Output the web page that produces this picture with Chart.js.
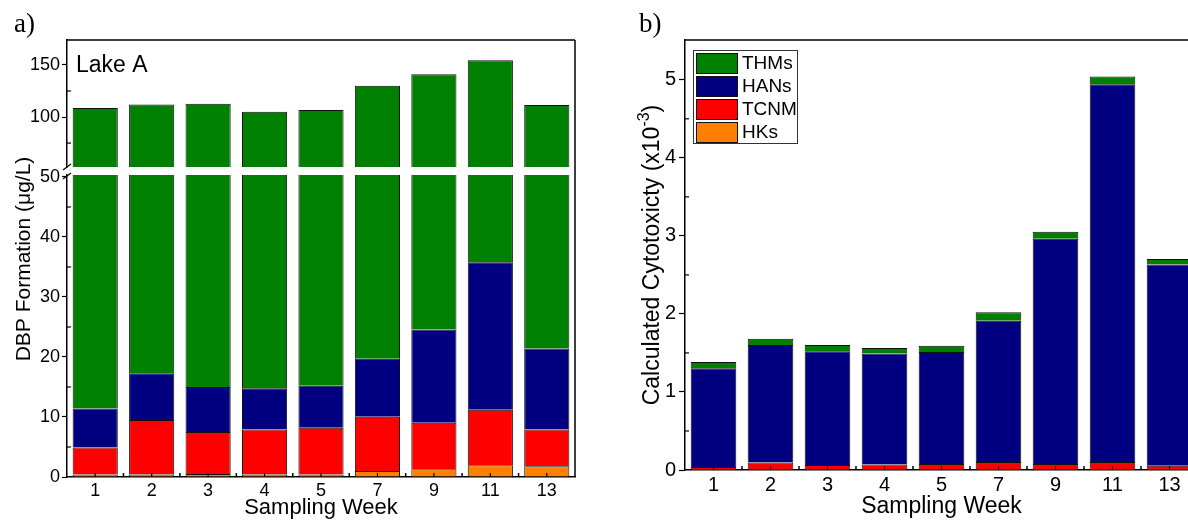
<!DOCTYPE html>
<html><head><meta charset="utf-8">
<script src="https://cdn.jsdelivr.net/npm/chart.js@4.4.1/dist/chart.umd.min.js"></script>
<style>
html,body{margin:0;padding:0;background:#fff;overflow:hidden;width:1188px;height:521px;}
#wrap{position:relative;width:1188px;height:521px;overflow:hidden;background:#fff;}
canvas{position:absolute;top:0;}
#cLow{left:0;}
#cHigh{left:0;pointer-events:none;}
#cRight{left:590px;}
</style></head><body>
<div id="wrap">
<canvas id="cLow" width="590" height="521"></canvas>
<canvas id="cHigh" width="590" height="521"></canvas>
<canvas id="cRight" width="620" height="521"></canvas>
</div>
<script>
// ---- data ----
const weeks = ['1','2','3','4','5','7','9','11','13'];
const legendNames = ['THMs','HANs','TCNM','HKs'];

// panel a) DBP formation (ug/L)
const dbpHKs  = [0.4, 0.4, 0.5, 0.4, 0.4, 1.0, 1.3, 1.95, 1.8];
const dbpTCNM = [4.5, 9.1, 7.0, 7.5, 7.8, 9.05, 7.75, 9.25, 6.1];
const dbpHANs = [6.5, 7.8, 7.5, 6.9, 7.0, 9.65, 15.55, 24.6, 13.5];
const dbpTHMs = [97.3, 94.7, 97.8, 90.2, 91.5, 110.3, 116.4, 118.7, 90.1];

// panel b) calculated cytotoxicity (x10^-3)
const cytoHKs  = [0.003, 0.003, 0.003, 0.003, 0.003, 0.003, 0.003, 0.003, 0.003];
const cytoTCNM = [0.035, 0.094, 0.06, 0.068, 0.073, 0.099, 0.073, 0.099, 0.051];
const cytoHANs = [1.265, 1.506, 1.46, 1.422, 1.437, 1.811, 2.887, 4.841, 2.579];
const cytoTHMs = [0.08, 0.08, 0.08, 0.07, 0.08, 0.11, 0.09, 0.10, 0.07];

// tick labels
const dbpLowTicks  = [0, 10, 20, 30, 40, 50];
const dbpLowMinor  = [5, 15, 25, 35, 45];
const dbpHighTicks = [100, 150];
const dbpHighMinor = [75, 125];
const cytoTicks    = [0, 1, 2, 3, 4, 5];
const cytoMinor    = [0.5, 1.5, 2.5, 3.5, 4.5];

// ---- styles ----
const FONT = "'Liberation Sans', Arial, sans-serif";
const SERIF = "'Liberation Serif', 'Times New Roman', serif";
const colors = {THMs:'#008000', HANs:'#000080', TCNM:'#ff0000', HKs:'#ff8000'};

function makeDatasets(hk, tc, han, thm){
  const src = {HKs:hk, TCNM:tc, HANs:han, THMs:thm};
  return ['HKs','TCNM','HANs','THMs'].map(n => ({
    label:n, data:src[n], backgroundColor:colors[n],
    borderColor:'#111', borderWidth:1, barPercentage:0.8, categoryPercentage:1.0
  }));
}
function yScale(min, max, ticks, width, fontSize, tickLen, pad){
  return {
    type:'linear', stacked:true, min:min, max:max, position:'left',
    afterBuildTicks: s => { s.ticks = ticks.map(v => ({value:v})); },
    afterFit: s => { s.width = width; },
    ticks:{font:{family:FONT, size:fontSize}, color:'#000', padding:pad, autoSkip:false},
    grid:{display:true, drawOnChartArea:false, drawTicks:true, tickLength:tickLen, tickColor:'#000', tickWidth:1.2},
    border:{display:true, color:'#000', width:1.5}
  };
}
function xScale(show, height, fontSize, pad){
  return {
    type:'category', stacked:true, offset:true, display:show,
    afterFit: s => { s.height = height; },
    grid:{display:false, drawTicks:false},
    border:{display:true, color:'#000', width:1.5},
    ticks:{font:{family:FONT, size:fontSize}, color:'#000', padding:pad, maxRotation:0, autoSkip:false}
  };
}
function line(ctx, x1, y1, x2, y2, w){
  ctx.beginPath(); ctx.lineWidth = w || 1.2; ctx.strokeStyle = '#000';
  ctx.moveTo(x1, y1); ctx.lineTo(x2, y2); ctx.stroke();
}
function minorY(ctx, chart, vals){
  const ys = chart.scales.y, a = chart.chartArea;
  vals.forEach(v => { const y = ys.getPixelForValue(v); line(ctx, a.left, y, a.left + 4, y, 1.2); });
}
function xTicks(ctx, chart){
  const xs = chart.scales.x, a = chart.chartArea;
  const px = weeks.map((w, i) => xs.getPixelForValue(i));
  px.forEach(x => line(ctx, x, a.bottom, x, a.bottom - 4, 1.2));
  for (let i = 0; i < px.length - 1; i++){
    const x = (px[i] + px[i+1]) / 2; line(ctx, x, a.bottom, x, a.bottom - 4, 1.5);
  }
}
function text(ctx, s, x, y, font, align, baseline){
  ctx.font = font; ctx.fillStyle = '#000';
  ctx.textAlign = align || 'left'; ctx.textBaseline = baseline || 'alphabetic';
  ctx.fillText(s, x, y);
}

const commonOpts = {
  responsive:false, animation:false, devicePixelRatio:1,
  plugins:{legend:{display:false}, tooltip:{enabled:false}}
};

// ---- panel a) lower section ----
new Chart(document.getElementById('cLow'), {
  type:'bar',
  data:{labels:weeks, datasets:makeDatasets(dbpHKs, dbpTCNM, dbpHANs, dbpTHMs)},
  options:Object.assign({}, commonOpts, {
    layout:{padding:{top:175, right:15, left:0, bottom:0}},
    scales:{ x:xScale(true, 44, 18, 3), y:yScale(0, 50.33, dbpLowTicks, 67, 18, 5, 2) }
  }),
  plugins:[{id:'decoLow', afterDraw(chart){
    const ctx = chart.ctx, a = chart.chartArea;
    minorY(ctx, chart, dbpLowMinor);
    xTicks(ctx, chart);
    // frame
    line(ctx, a.left, 40, a.right, 40, 1.5);
    line(ctx, a.right, 40, a.right, a.bottom, 1.5);
    // break marks
    line(ctx, 63, 170, 71, 164, 1.2);
    line(ctx, 63, 179, 71, 173, 1.2);
    // titles
    ctx.save(); ctx.translate(30, 259); ctx.rotate(-Math.PI/2);
    text(ctx, 'DBP Formation (\u03bcg/L)', 0, 0, '21px ' + FONT, 'center', 'alphabetic');
    ctx.restore();
    text(ctx, 'Sampling Week', (a.left + a.right)/2, 508, '22px ' + FONT, 'center', 'middle');
    text(ctx, 'a)', 14, 32, '27px ' + SERIF, 'left', 'alphabetic');
    text(ctx, 'Lake A', 76, 72, '23px ' + FONT, 'left', 'alphabetic');
  }}]
});

// ---- panel a) upper section ----
new Chart(document.getElementById('cHigh'), {
  type:'bar',
  data:{labels:weeks, datasets:makeDatasets(dbpHKs, dbpTCNM, dbpHANs, dbpTHMs)},
  options:Object.assign({}, commonOpts, {
    layout:{padding:{top:40, right:15, left:0, bottom:354}},
    scales:{ x:xScale(false, 0, 18, 0), y:yScale(52, 174, dbpHighTicks, 67, 18, 5, 2) }
  }),
  plugins:[{id:'decoHigh', afterDraw(chart){
    minorY(chart.ctx, chart, dbpHighMinor);
  }}]
});

// ---- panel b) ----
new Chart(document.getElementById('cRight'), {
  type:'bar',
  data:{labels:weeks, datasets:makeDatasets(cytoHKs, cytoTCNM, cytoHANs, cytoTHMs)},
  options:Object.assign({}, commonOpts, {
    layout:{padding:{top:40, right:12, left:0, bottom:0}},
    scales:{ x:xScale(true, 51, 20, 3), y:yScale(0, 5.51, cytoTicks, 95, 20, 6, 3) }
  }),
  plugins:[{id:'decoRight', afterDraw(chart){
    const ctx = chart.ctx, a = chart.chartArea;
    minorY(ctx, chart, cytoMinor);
    xTicks(ctx, chart);
    line(ctx, a.left, 40, chart.width, 40, 1.5);
    // y title with superscript
    ctx.save(); ctx.translate(61, 255); ctx.rotate(-Math.PI/2);
    const f1 = '23px ' + FONT, f2 = '16px ' + FONT;
    const s1 = 'Calculated Cytotoxicty (x10', s2 = '-3', s3 = ')';
    ctx.font = f1; const w1 = ctx.measureText(s1).width, w3 = ctx.measureText(s3).width;
    ctx.font = f2; const w2 = ctx.measureText(s2).width;
    let x0 = -(w1 + w2 + w3)/2;
    text(ctx, s1, x0, 8, f1); text(ctx, s2, x0 + w1, -2, f2); text(ctx, s3, x0 + w1 + w2, 8, f1);
    ctx.restore();
    text(ctx, 'Sampling Week', (a.left + a.right)/2, 507, '23px ' + FONT, 'center', 'middle');
    text(ctx, 'b)', 49, 32, '27px ' + SERIF, 'left', 'alphabetic');
    // legend
    ctx.fillStyle = '#fff'; ctx.fillRect(103, 50, 104, 93);
    ctx.lineWidth = 1; ctx.strokeStyle = '#333'; ctx.strokeRect(103.5, 50.5, 104, 93);
    legendNames.forEach((n, i) => {
      const y = 53 + i*23;
      ctx.fillStyle = colors[n]; ctx.fillRect(106, y, 41, 20);
      ctx.strokeStyle = '#111'; ctx.lineWidth = 1; ctx.strokeRect(106.5, y + 0.5, 41, 20);
      text(ctx, n, 152, y + 11, '19px ' + FONT, 'left', 'middle');
    });
  }}]
});
</script>
</body></html>
